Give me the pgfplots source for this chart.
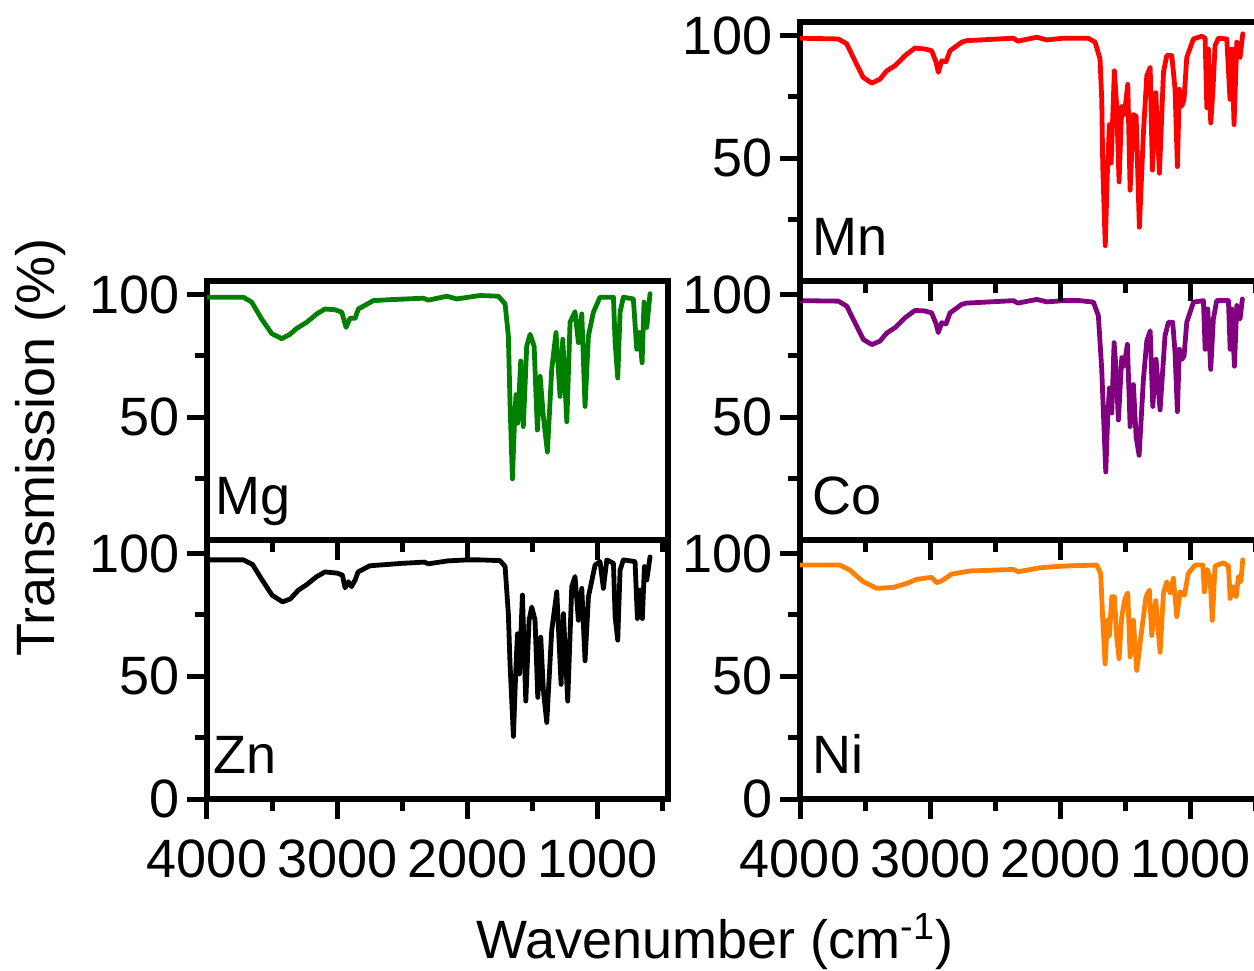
\documentclass[border=0pt]{standalone}
\usepackage{fontspec}
\setmainfont{Liberation Sans}
\usepackage{pgfplots}
\pgfplotsset{compat=1.18}

\newcommand{\figfont}{\fontsize{27}{30}\selectfont}
\definecolor{mnred}{RGB}{255,0,0}
\definecolor{mggreen}{RGB}{0,128,0}
\definecolor{copurple}{RGB}{128,0,128}
\definecolor{niorange}{RGB}{255,128,0}

\tikzset{tag/.style={anchor=base west, inner xsep=0pt, font=\figfont}}

\pgfplotsset{
  ir/.style={
    scale only axis, width=230.5pt, height=129.5pt,
    x dir=reverse, xmin=460, xmax=4000, ymin=0, ymax=105.5,
    axis line style={line width=3pt},
    tick align=outside, xtick pos=left, ytick pos=left,
    xtick={1000,2000,3000,4000}, minor xtick={500,1500,2500,3500},
    ytick={50,100}, minor ytick={25,75},
    major tick length=10pt, minor tick length=6pt,
    tick style={line width=2.5pt, black},
    ticklabel style={font=\figfont},
    xticklabel style={yshift=-7pt},
    /pgf/number format/1000 sep={},
    /pgf/number format/assume math mode=true,
    xticklabels={},
  },
  bottomrow/.style={
    ytick={0,50,100},
    xticklabels={1000,2000,3000,4000},
  },
  spec/.style={line width=2.4pt, line join=round, line cap=round, mark=none, color=#1},
}

\begin{document}
\begin{tikzpicture}

% --- Zn (bottom left)
\begin{axis}[ir, bottomrow, at={(103.5pt,-270pt)}, anchor=north west]
\addplot[spec=black] coordinates {
(4000,97.4)(3720,97.4)(3650,95.5)(3580,89.5)(3500,83)(3420,80.3)(3360,81.5)(3300,85)(3230,87.5)(3160,90.5)(3094,92.5)(3000,92)(2960,91.2)(2940,86)(2915,88.5)(2890,86.5)(2860,89.5)(2840,92.5)(2750,95)(2500,96)(2330,96.5)(2300,95.8)(2150,97)(2000,97.4)(1903,97.4)(1750,97.1)(1711,94.7)(1686,75.5)(1673,55)(1647,25.5)(1629,52.2)(1616,67.3)(1601,50.9)(1578,83.1)(1552,39.9)(1527,72.8)(1506,78.2)(1481,72.8)(1460,41.4)(1437,65.9)(1417,44.2)(1391,31.2)(1353,68.6)(1314,84.4)(1281,46.7)(1263,75.5)(1230,39.9)(1199,86.5)(1174,90.6)(1148,72.8)(1122,85.8)(1097,56.3)(1071,82.4)(1020,95.3)(982,96.7)(956,85.8)(930,97.4)(879,96)(866,74.2)(846,64.7)(828,93.2)(803,97.4)(713,96.7)(695,73.5)(674,85.1)(657,73.5)(641,94.7)(623,89.2)(598,98.6)
};
\node[tag] at (rel axis cs:0.013,0.1) {Zn};
\end{axis}

% --- Ni (bottom right)
\begin{axis}[ir, bottomrow, at={(400pt,-270pt)}, anchor=north west]
\addplot[spec=niorange] coordinates {
(4000,95.3)(3693,95.3)(3616,93.2)(3514,88.5)(3411,85.8)(3283,86.2)(3181,87.8)(3104,89.5)(2989,90.3)(2950,88.1)(2912,88.9)(2835,91.6)(2694,92.9)(2362,93.5)(2323,92.6)(2157,94.2)(1978,94.9)(1722,95.3)(1691,91.9)(1675,72.8)(1657,55)(1640,72.8)(1624,66.6)(1606,82.4)(1586,82.4)(1568,66.1)(1550,57.2)(1529,74.3)(1504,81.7)(1483,83.9)(1465,57.9)(1440,72.8)(1414,52.4)(1376,68.8)(1343,82.4)(1317,85.1)(1299,66.6)(1268,80.8)(1235,59.8)(1209,83.9)(1184,88.5)(1158,83.9)(1133,89.9)(1107,74.3)(1081,84.4)(1048,83)(1018,91.9)(966,95.3)(907,95.3)(895,84.4)(872,93.5)(851,89.9)(834,72.8)(813,94.9)(749,96.2)(710,94.9)(697,81.7)(672,86.5)(651,82.4)(633,90.6)(615,88.5)(600,97.4)
};
\node[tag] at (rel axis cs:0.026,0.1) {Ni};
\end{axis}

% --- Mg (middle left)
\begin{axis}[ir, at={(103.5pt,-140.5pt)}, anchor=north west]
\addplot[spec=mggreen] coordinates {
(4000,98.9)(3721,98.9)(3657,96.9)(3580,90)(3503,84.1)(3426,82)(3363,83.8)(3311,86.2)(3234,88.7)(3157,92.1)(3094,94.1)(3017,93.8)(2965,92.8)(2932,86.6)(2902,90.3)(2863,90.3)(2838,94.1)(2723,97.5)(2594,97.9)(2339,98.5)(2300,97.7)(2159,99.3)(2082,98.2)(1903,99.6)(1763,99.3)(1711,96.2)(1686,83.2)(1673,55.8)(1655,24.9)(1640,46.2)(1627,59.2)(1614,47.6)(1591,72.9)(1571,46.2)(1545,79)(1519,83.8)(1488,79)(1463,44.8)(1442,66.7)(1417,50.3)(1386,35.9)(1353,69.5)(1320,84.5)(1289,58.5)(1268,81.8)(1237,48.2)(1212,88.7)(1174,93)(1148,80.4)(1122,92.1)(1097,54.4)(1071,83.2)(1033,92.8)(982,98.9)(879,98.9)(866,80.4)(846,66)(828,92.8)(803,98.9)(726,98.2)(700,77.7)(680,84.5)(659,72.2)(644,96.9)(623,86.6)(598,100.3)
};
\node[tag] at (rel axis cs:0.017,0.1) {Mg};
\end{axis}

% --- Co (middle right)
\begin{axis}[ir, at={(400pt,-140.5pt)}, anchor=north west]
\addplot[spec=copurple] coordinates {
(4000,97.5)(3706,97.3)(3641,95.3)(3578,88.5)(3514,81.7)(3449,79.6)(3386,81)(3334,84.3)(3270,86.5)(3194,90.5)(3117,93.5)(3040,93.3)(2989,92.5)(2955,88)(2938,84.5)(2912,88.5)(2879,88)(2848,92.5)(2758,96)(2720,96.5)(2362,97.5)(2326,96.5)(2182,98)(2105,97)(1978,97.5)(1849,97.5)(1747,96.9)(1709,91.4)(1683,69.5)(1670,51.7)(1652,27.7)(1637,50.3)(1624,61.9)(1606,51.7)(1588,80.4)(1573,69.5)(1555,48.9)(1529,74.3)(1511,70.8)(1486,79.7)(1465,46.2)(1440,63.3)(1419,42)(1396,34.5)(1363,65.4)(1337,81.1)(1311,85.2)(1291,54.4)(1266,73.6)(1235,53)(1197,83.2)(1171,88.7)(1138,88.7)(1120,76.3)(1102,52.3)(1087,77.7)(1068,73.6)(1051,74.9)(1030,88.7)(979,96.9)(902,97.5)(889,77.7)(869,94.1)(846,69.5)(826,90)(800,97.5)(710,97.5)(697,77.7)(684,94.1)(664,70.8)(646,95.5)(621,90)(603,98.2)
};
\node[tag] at (rel axis cs:0.026,0.1) {Co};
\end{axis}

% --- Mn (top right)
\begin{axis}[ir, at={(400pt,-11pt)}, anchor=north west]
\addplot[spec=mnred] coordinates {
(4000,98.9)(3706,98.6)(3641,96.6)(3578,89.7)(3514,82.9)(3449,80.6)(3386,82.2)(3334,85.6)(3270,87.7)(3194,91.8)(3117,94.9)(3040,94.5)(2989,93.8)(2955,89.1)(2938,85.0)(2912,89.7)(2879,89.3)(2848,93.8)(2758,97.3)(2720,97.9)(2362,98.9)(2326,97.7)(2182,99.3)(2105,98.2)(1978,98.9)(1786,98.9)(1734,97.3)(1696,90.4)(1683,74)(1675,46.6)(1656,14.4)(1640,43.9)(1624,63.7)(1611,48)(1586,85.6)(1568,71.2)(1550,40.4)(1529,71.2)(1509,67.8)(1483,80.1)(1465,37)(1440,67.8)(1419,67.1)(1394,21.9)(1363,60.3)(1337,83.6)(1311,87)(1294,45.2)(1268,76.7)(1240,43.9)(1209,85)(1184,91.8)(1145,91.8)(1120,78.1)(1102,46.6)(1087,78.1)(1068,71.2)(1051,74)(1030,91.1)(979,98.6)(915,99.7)(889,98.9)(876,70.6)(864,94.5)(846,64.4)(830,76.7)(813,95.9)(787,98.9)(723,98.6)(698,74)(684,94.5)(667,63.7)(646,97.3)(621,91.1)(600,100.7)
};
\node[tag] at (rel axis cs:0.026,0.1) {Mn};
\end{axis}

% axis titles
\node[rotate=90, font=\figfont] at (20.5pt,-223.5pt) {Transmission (\%)};
\node[anchor=base, font=\figfont] at (357.5pt,-479pt) {Wavenumber (cm\textsuperscript{-1})};

\pgfresetboundingbox
\path[use as bounding box] (0pt,0pt) rectangle (627pt,-485pt);
\end{tikzpicture}
\end{document}
